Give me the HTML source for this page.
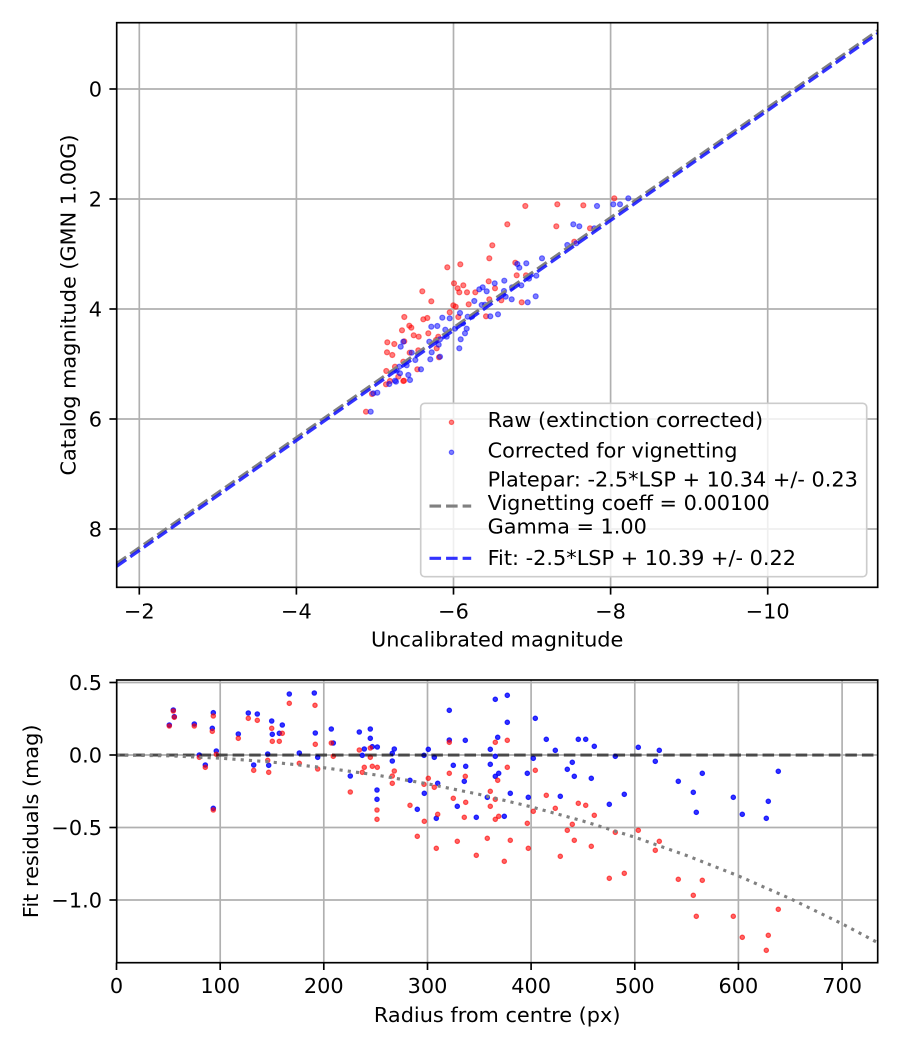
<!DOCTYPE html>
<html><head><meta charset="utf-8"><style>
html,body{margin:0;padding:0;background:#fff;}
svg{display:block;}
text{font-family:"DejaVu Sans","Liberation Sans",sans-serif;font-size:20.83px;fill:#000;}
</style></head><body>
<svg width="900" height="1050" viewBox="0 0 900 1050" xmlns="http://www.w3.org/2000/svg">
<defs>
<clipPath id="c1"><rect x="116.7" y="22.7" width="761" height="564.6"/></clipPath>
<clipPath id="c2"><rect x="116.7" y="680" width="761" height="282.7"/></clipPath>
</defs>
<rect width="900" height="1050" fill="#fff"/>

<!-- ===== TOP AXES ===== -->
<g stroke="#b0b0b0" stroke-width="1.67">
<line x1="139.3" y1="22.7" x2="139.3" y2="587.3"/>
<line x1="296.4" y1="22.7" x2="296.4" y2="587.3"/>
<line x1="453.5" y1="22.7" x2="453.5" y2="587.3"/>
<line x1="610.6" y1="22.7" x2="610.6" y2="587.3"/>
<line x1="767.7" y1="22.7" x2="767.7" y2="587.3"/>
<line x1="116.7" y1="89" x2="877.7" y2="89"/>
<line x1="116.7" y1="199" x2="877.7" y2="199"/>
<line x1="116.7" y1="309" x2="877.7" y2="309"/>
<line x1="116.7" y1="419" x2="877.7" y2="419"/>
<line x1="116.7" y1="529" x2="877.7" y2="529"/>
</g>
<g clip-path="url(#c1)">
<g fill="red" fill-opacity="0.5" stroke="red" stroke-opacity="0.5" stroke-width="1.2">
<circle cx="614.3" cy="198.3" r="2.5"/><circle cx="525.3" cy="206" r="2.5"/><circle cx="557.3" cy="204.3" r="2.5"/><circle cx="583.3" cy="205.3" r="2.5"/><circle cx="507.3" cy="224.3" r="2.5"/><circle cx="556.3" cy="226.3" r="2.5"/><circle cx="590" cy="228.3" r="2.5"/><circle cx="492.3" cy="245.3" r="2.5"/><circle cx="489.3" cy="258.3" r="2.5"/><circle cx="574.3" cy="241.7" r="2.5"/><circle cx="515.3" cy="262.7" r="2.5"/><circle cx="447.3" cy="267.3" r="2.5"/><circle cx="460.3" cy="264.3" r="2.5"/><circle cx="516.7" cy="275.3" r="2.5"/><circle cx="526" cy="275.3" r="2.5"/><circle cx="454" cy="283.3" r="2.5"/><circle cx="457.7" cy="288.3" r="2.5"/><circle cx="463.3" cy="285.3" r="2.5"/><circle cx="459.3" cy="292.3" r="2.5"/><circle cx="467" cy="292.3" r="2.5"/><circle cx="475.3" cy="292.3" r="2.5"/><circle cx="488.7" cy="281.3" r="2.5"/><circle cx="495" cy="288.3" r="2.5"/><circle cx="422.3" cy="291.3" r="2.5"/><circle cx="431.3" cy="301.3" r="2.5"/><circle cx="453.3" cy="305.3" r="2.5"/><circle cx="468.7" cy="304.3" r="2.5"/><circle cx="489.3" cy="299.3" r="2.5"/><circle cx="501.3" cy="300.3" r="2.5"/><circle cx="521.7" cy="302.3" r="2.5"/><circle cx="449.7" cy="312.3" r="2.5"/><circle cx="455.7" cy="306.7" r="2.5"/><circle cx="486" cy="316.3" r="2.5"/><circle cx="404.3" cy="317" r="2.5"/><circle cx="423.3" cy="319.3" r="2.5"/><circle cx="427.3" cy="318" r="2.5"/><circle cx="458.3" cy="317" r="2.5"/><circle cx="409.3" cy="325.7" r="2.5"/><circle cx="411.3" cy="327.7" r="2.5"/><circle cx="402" cy="330.3" r="2.5"/><circle cx="413.7" cy="335.3" r="2.5"/><circle cx="418.7" cy="336.7" r="2.5"/><circle cx="428.3" cy="333.3" r="2.5"/><circle cx="438.3" cy="336.7" r="2.5"/><circle cx="387.3" cy="342.3" r="2.5"/><circle cx="394.3" cy="344" r="2.5"/><circle cx="404.3" cy="341.3" r="2.5"/><circle cx="436" cy="340" r="2.5"/><circle cx="387" cy="352.3" r="2.5"/><circle cx="392.3" cy="355" r="2.5"/><circle cx="409.7" cy="352.7" r="2.5"/><circle cx="418.3" cy="350.3" r="2.5"/><circle cx="436.7" cy="348.3" r="2.5"/><circle cx="439" cy="357.3" r="2.5"/><circle cx="395" cy="366.7" r="2.5"/><circle cx="403.3" cy="361.7" r="2.5"/><circle cx="386.3" cy="371" r="2.5"/><circle cx="417.3" cy="369.3" r="2.5"/><circle cx="390" cy="381" r="2.5"/><circle cx="403.3" cy="381" r="2.5"/><circle cx="372" cy="394" r="2.5"/><circle cx="366" cy="411.7" r="2.5"/><circle cx="398.3" cy="376.7" r="2.5"/><circle cx="386" cy="384.3" r="2.5"/><circle cx="404" cy="380.7" r="2.5"/>
</g>
<g fill="blue" fill-opacity="0.5" stroke="blue" stroke-opacity="0.5" stroke-width="1.2">
<circle cx="628.3" cy="198.3" r="2.5"/><circle cx="620" cy="204.3" r="2.5"/><circle cx="613.3" cy="204.3" r="2.5"/><circle cx="597" cy="206" r="2.5"/><circle cx="573.3" cy="224.3" r="2.5"/><circle cx="579.3" cy="226.3" r="2.5"/><circle cx="594.3" cy="228.3" r="2.5"/><circle cx="576.3" cy="243.3" r="2.5"/><circle cx="567.3" cy="245" r="2.5"/><circle cx="542" cy="258.3" r="2.5"/><circle cx="526.3" cy="263.3" r="2.5"/><circle cx="517.3" cy="264" r="2.5"/><circle cx="519.3" cy="267.7" r="2.5"/><circle cx="536.3" cy="275.7" r="2.5"/><circle cx="529" cy="278.7" r="2.5"/><circle cx="521.3" cy="285.3" r="2.5"/><circle cx="535.7" cy="296.3" r="2.5"/><circle cx="527.7" cy="302.3" r="2.5"/><circle cx="504.3" cy="280.7" r="2.5"/><circle cx="494.7" cy="283.3" r="2.5"/><circle cx="479.3" cy="289.3" r="2.5"/><circle cx="482.7" cy="287.3" r="2.5"/><circle cx="486.7" cy="291.3" r="2.5"/><circle cx="504" cy="291" r="2.5"/><circle cx="512" cy="287.3" r="2.5"/><circle cx="505.7" cy="296.7" r="2.5"/><circle cx="511.7" cy="299.3" r="2.5"/><circle cx="474.3" cy="301" r="2.5"/><circle cx="481.7" cy="305" r="2.5"/><circle cx="485" cy="304.7" r="2.5"/><circle cx="498" cy="314.3" r="2.5"/><circle cx="490.3" cy="316.3" r="2.5"/><circle cx="472" cy="316.7" r="2.5"/><circle cx="467.7" cy="316.7" r="2.5"/><circle cx="460" cy="313" r="2.5"/><circle cx="442.3" cy="317.7" r="2.5"/><circle cx="449.7" cy="318.3" r="2.5"/><circle cx="431.3" cy="326.7" r="2.5"/><circle cx="437.3" cy="326" r="2.5"/><circle cx="445.3" cy="329.7" r="2.5"/><circle cx="455" cy="328.7" r="2.5"/><circle cx="463" cy="323.3" r="2.5"/><circle cx="466.7" cy="328.7" r="2.5"/><circle cx="465" cy="333.3" r="2.5"/><circle cx="460.7" cy="339.3" r="2.5"/><circle cx="459.3" cy="348.3" r="2.5"/><circle cx="446.7" cy="336.7" r="2.5"/><circle cx="440" cy="339.3" r="2.5"/><circle cx="429.3" cy="341.7" r="2.5"/><circle cx="438.7" cy="344.7" r="2.5"/><circle cx="403.3" cy="341.7" r="2.5"/><circle cx="400.7" cy="346.7" r="2.5"/><circle cx="411.7" cy="352.7" r="2.5"/><circle cx="415.3" cy="360" r="2.5"/><circle cx="430.3" cy="359.3" r="2.5"/><circle cx="431.7" cy="352.3" r="2.5"/><circle cx="440" cy="356.7" r="2.5"/><circle cx="399.3" cy="366.7" r="2.5"/><circle cx="406.7" cy="365.3" r="2.5"/><circle cx="396.7" cy="370.7" r="2.5"/><circle cx="408.3" cy="375" r="2.5"/><circle cx="421" cy="369.3" r="2.5"/><circle cx="395" cy="380.7" r="2.5"/><circle cx="389.3" cy="384" r="2.5"/><circle cx="377.3" cy="392.7" r="2.5"/><circle cx="373.3" cy="393.3" r="2.5"/><circle cx="370.7" cy="411.7" r="2.5"/><circle cx="396" cy="381.7" r="2.5"/><circle cx="410" cy="380" r="2.5"/><circle cx="400" cy="373.3" r="2.5"/>
</g>
<line x1="116.7" y1="563.5" x2="877.7" y2="30.7" stroke="#808080" stroke-width="3.125" stroke-dasharray="11.56 5"/>
<line x1="116.7" y1="566.3" x2="877.7" y2="33.5" stroke="blue" stroke-opacity="0.8" stroke-width="3.125" stroke-dasharray="11.56 5"/>
</g>
<!-- legend -->
<rect x="420.7" y="403.3" width="446" height="173.4" rx="4" ry="4" fill="#fff" fill-opacity="0.8" stroke="#cccccc" stroke-width="1.67"/>
<circle cx="451.5" cy="422.3" r="2.2" fill="red" fill-opacity="0.5" stroke="red" stroke-opacity="0.5" stroke-width="1.2"/>
<circle cx="451.5" cy="452.3" r="2.2" fill="blue" fill-opacity="0.5" stroke="blue" stroke-opacity="0.5" stroke-width="1.2"/>
<line x1="429.5" y1="506" x2="471.2" y2="506" stroke="#808080" stroke-width="3.125" stroke-dasharray="11.56 5"/>
<line x1="429.5" y1="558.3" x2="471.2" y2="558.3" stroke="blue" stroke-opacity="0.8" stroke-width="3.125" stroke-dasharray="11.56 5"/>
<text x="487.6" y="427">Raw (extinction corrected)</text>
<text x="487.6" y="457.3">Corrected for vignetting</text>
<text x="487.6" y="486.7">Platepar: -2.5*LSP + 10.34 +/- 0.23</text>
<text x="487.6" y="510">Vignetting coeff = 0.00100</text>
<text x="487.6" y="533.3">Gamma = 1.00</text>
<text x="487.6" y="565">Fit: -2.5*LSP + 10.39 +/- 0.22</text>

<!-- spines & ticks top -->
<rect x="116.7" y="22.7" width="761" height="564.6" fill="none" stroke="#000" stroke-width="1.67"/>
<g stroke="#000" stroke-width="1.67">
<line x1="139.3" y1="587.3" x2="139.3" y2="594.6"/>
<line x1="296.4" y1="587.3" x2="296.4" y2="594.6"/>
<line x1="453.5" y1="587.3" x2="453.5" y2="594.6"/>
<line x1="610.6" y1="587.3" x2="610.6" y2="594.6"/>
<line x1="767.7" y1="587.3" x2="767.7" y2="594.6"/>
<line x1="109.4" y1="89" x2="116.7" y2="89"/>
<line x1="109.4" y1="199" x2="116.7" y2="199"/>
<line x1="109.4" y1="309" x2="116.7" y2="309"/>
<line x1="109.4" y1="419" x2="116.7" y2="419"/>
<line x1="109.4" y1="529" x2="116.7" y2="529"/>
</g>
<g text-anchor="middle">
<text x="139.3" y="618.5">−2</text>
<text x="296.4" y="618.5">−4</text>
<text x="453.5" y="618.5">−6</text>
<text x="610.6" y="618.5">−8</text>
<text x="767.7" y="618.5">−10</text>
</g>
<g text-anchor="end">
<text x="102" y="96.6">0</text>
<text x="102" y="206.6">2</text>
<text x="102" y="316.6">4</text>
<text x="102" y="426.6">6</text>
<text x="102" y="536.6">8</text>
</g>
<text x="497.2" y="646.7" text-anchor="middle">Uncalibrated magnitude</text>
<text transform="translate(75.6,305) rotate(-90)" text-anchor="middle">Catalog magnitude (GMN 1.00G)</text>

<!-- ===== BOTTOM AXES ===== -->
<g stroke="#b0b0b0" stroke-width="1.67">
<line x1="220.2" y1="680" x2="220.2" y2="962.7"/>
<line x1="323.8" y1="680" x2="323.8" y2="962.7"/>
<line x1="427.5" y1="680" x2="427.5" y2="962.7"/>
<line x1="531.1" y1="680" x2="531.1" y2="962.7"/>
<line x1="634.8" y1="680" x2="634.8" y2="962.7"/>
<line x1="738.4" y1="680" x2="738.4" y2="962.7"/>
<line x1="842.1" y1="680" x2="842.1" y2="962.7"/>
<line x1="116.7" y1="682.5" x2="877.7" y2="682.5"/>
<line x1="116.7" y1="755" x2="877.7" y2="755"/>
<line x1="116.7" y1="827.5" x2="877.7" y2="827.5"/>
<line x1="116.7" y1="900" x2="877.7" y2="900"/>
</g>
<g clip-path="url(#c2)">
<g fill="blue" fill-opacity="0.8" stroke="blue" stroke-opacity="0.8" stroke-width="1.2">
<circle cx="169.3" cy="725" r="2.2"/><circle cx="173.3" cy="710" r="2.2"/><circle cx="174.3" cy="716.7" r="2.2"/><circle cx="194.3" cy="724" r="2.2"/><circle cx="199.3" cy="755" r="2.2"/><circle cx="205.3" cy="765" r="2.2"/><circle cx="213.3" cy="712.7" r="2.2"/><circle cx="212.3" cy="728.3" r="2.2"/><circle cx="216.3" cy="751" r="2.2"/><circle cx="213.3" cy="808.3" r="2.2"/><circle cx="238.3" cy="734" r="2.2"/><circle cx="248.3" cy="713" r="2.2"/><circle cx="257.3" cy="714" r="2.2"/><circle cx="253.7" cy="765" r="2.2"/><circle cx="271.7" cy="721" r="2.2"/><circle cx="272.3" cy="734.3" r="2.2"/><circle cx="282.3" cy="725" r="2.2"/><circle cx="279.3" cy="733.3" r="2.2"/><circle cx="267.7" cy="754" r="2.2"/><circle cx="268.7" cy="765.3" r="2.2"/><circle cx="289.3" cy="694" r="2.2"/><circle cx="299.3" cy="753" r="2.2"/><circle cx="314.3" cy="693" r="2.2"/><circle cx="315.3" cy="733" r="2.2"/><circle cx="317.7" cy="757.3" r="2.2"/><circle cx="331.3" cy="729" r="2.2"/><circle cx="333.3" cy="743" r="2.2"/><circle cx="350.3" cy="776" r="2.2"/><circle cx="359.3" cy="732" r="2.2"/><circle cx="364.3" cy="749" r="2.2"/><circle cx="362.3" cy="755.3" r="2.2"/><circle cx="370.3" cy="729" r="2.2"/><circle cx="370.3" cy="738.3" r="2.2"/><circle cx="372.3" cy="746.7" r="2.2"/><circle cx="377.3" cy="747" r="2.2"/><circle cx="377" cy="790" r="2.2"/><circle cx="377" cy="799.3" r="2.2"/><circle cx="392.3" cy="753.3" r="2.2"/><circle cx="394.3" cy="749" r="2.2"/><circle cx="392.3" cy="761" r="2.2"/>
<circle cx="410" cy="780.3" r="2.2"/><circle cx="417.3" cy="809.3" r="2.2"/><circle cx="424" cy="755.3" r="2.2"/><circle cx="428.3" cy="749.3" r="2.2"/><circle cx="424.3" cy="793.3" r="2.2"/><circle cx="434.3" cy="757.3" r="2.2"/><circle cx="437.7" cy="783.3" r="2.2"/><circle cx="436.3" cy="818.3" r="2.2"/><circle cx="449.3" cy="710.3" r="2.2"/><circle cx="449.3" cy="740" r="2.2"/><circle cx="453.3" cy="765.3" r="2.2"/><circle cx="457.3" cy="806.3" r="2.2"/><circle cx="465.3" cy="740.3" r="2.2"/><circle cx="465.7" cy="766.3" r="2.2"/><circle cx="464.3" cy="781.3" r="2.2"/><circle cx="476.3" cy="817.3" r="2.2"/><circle cx="487.3" cy="797.3" r="2.2"/><circle cx="490.3" cy="749.3" r="2.2"/><circle cx="490.3" cy="764.3" r="2.2"/><circle cx="495.3" cy="699.3" r="2.2"/><circle cx="495.3" cy="756.3" r="2.2"/><circle cx="497.7" cy="737.3" r="2.2"/><circle cx="495.3" cy="776.3" r="2.2"/><circle cx="498.7" cy="773.3" r="2.2"/><circle cx="504.3" cy="816.3" r="2.2"/><circle cx="507.3" cy="695.3" r="2.2"/><circle cx="507.3" cy="722.3" r="2.2"/><circle cx="510.3" cy="793.3" r="2.2"/><circle cx="527.3" cy="773.3" r="2.2"/><circle cx="528.3" cy="797.3" r="2.2"/><circle cx="533.3" cy="758.3" r="2.2"/><circle cx="535.3" cy="718.3" r="2.2"/><circle cx="546.3" cy="739.3" r="2.2"/><circle cx="555.3" cy="750.3" r="2.2"/><circle cx="560.3" cy="796.3" r="2.2"/><circle cx="567.3" cy="769.3" r="2.2"/><circle cx="572.3" cy="762.3" r="2.2"/><circle cx="574.3" cy="776.3" r="2.2"/><circle cx="578.3" cy="739.3" r="2.2"/><circle cx="585.7" cy="739.3" r="2.2"/><circle cx="591.3" cy="778.3" r="2.2"/><circle cx="594.3" cy="746.3" r="2.2"/><circle cx="609.3" cy="804.3" r="2.2"/><circle cx="615.3" cy="756.3" r="2.2"/><circle cx="624.3" cy="794.3" r="2.2"/><circle cx="638.3" cy="747.3" r="2.2"/><circle cx="655.3" cy="761.3" r="2.2"/><circle cx="659.3" cy="750.3" r="2.2"/><circle cx="678.3" cy="781.3" r="2.2"/><circle cx="693.3" cy="792.3" r="2.2"/><circle cx="696.3" cy="812.3" r="2.2"/><circle cx="702.3" cy="773.3" r="2.2"/><circle cx="733.3" cy="797.3" r="2.2"/><circle cx="742.3" cy="814.3" r="2.2"/><circle cx="766.3" cy="818.3" r="2.2"/><circle cx="768.3" cy="801.3" r="2.2"/><circle cx="778.3" cy="771.3" r="2.2"/>
</g>
<g fill="red" fill-opacity="0.6" stroke="red" stroke-opacity="0.6" stroke-width="1.2">
<circle cx="169.3" cy="726" r="2.2"/><circle cx="173.3" cy="711" r="2.2"/><circle cx="174.3" cy="717.3" r="2.2"/><circle cx="194.3" cy="726" r="2.2"/><circle cx="199.3" cy="757.3" r="2.2"/><circle cx="205.3" cy="767.3" r="2.2"/><circle cx="213.3" cy="716" r="2.2"/><circle cx="212.3" cy="731.3" r="2.2"/><circle cx="216.3" cy="754.3" r="2.2"/><circle cx="213.3" cy="810" r="2.2"/><circle cx="238.3" cy="738.3" r="2.2"/><circle cx="248.3" cy="718.3" r="2.2"/><circle cx="257.3" cy="720.3" r="2.2"/><circle cx="253.7" cy="770.3" r="2.2"/><circle cx="271.7" cy="728.3" r="2.2"/><circle cx="272.3" cy="741.3" r="2.2"/><circle cx="282.3" cy="733.3" r="2.2"/><circle cx="279.3" cy="741.3" r="2.2"/><circle cx="267.7" cy="760.3" r="2.2"/><circle cx="268.7" cy="772.3" r="2.2"/><circle cx="289.3" cy="703.3" r="2.2"/><circle cx="299.3" cy="763.3" r="2.2"/><circle cx="315" cy="705.3" r="2.2"/><circle cx="315.3" cy="744.3" r="2.2"/><circle cx="317.7" cy="769" r="2.2"/><circle cx="331.3" cy="743" r="2.2"/><circle cx="333.3" cy="756.3" r="2.2"/><circle cx="350.3" cy="792" r="2.2"/><circle cx="359.3" cy="750" r="2.2"/><circle cx="364.3" cy="767.3" r="2.2"/><circle cx="362.3" cy="772.3" r="2.2"/><circle cx="370.3" cy="748" r="2.2"/><circle cx="370.3" cy="757.3" r="2.2"/><circle cx="372.3" cy="766.3" r="2.2"/><circle cx="377.3" cy="767.3" r="2.2"/><circle cx="377" cy="810" r="2.2"/><circle cx="377" cy="819.3" r="2.2"/><circle cx="392.3" cy="783.3" r="2.2"/><circle cx="394.3" cy="771" r="2.2"/><circle cx="392.3" cy="776" r="2.2"/>
<circle cx="410" cy="805.3" r="2.2"/><circle cx="417.3" cy="836.3" r="2.2"/><circle cx="424" cy="784.3" r="2.2"/><circle cx="428.3" cy="778.3" r="2.2"/><circle cx="424.3" cy="821.3" r="2.2"/><circle cx="434.3" cy="787.3" r="2.2"/><circle cx="437.7" cy="814.3" r="2.2"/><circle cx="436.3" cy="848.3" r="2.2"/><circle cx="449.3" cy="742.3" r="2.2"/><circle cx="449.3" cy="773.3" r="2.2"/><circle cx="453.3" cy="798.3" r="2.2"/><circle cx="457.3" cy="841.3" r="2.2"/><circle cx="465.3" cy="776.3" r="2.2"/><circle cx="465.7" cy="802.3" r="2.2"/><circle cx="464.3" cy="817.3" r="2.2"/><circle cx="476.3" cy="855.3" r="2.2"/><circle cx="487.3" cy="838.3" r="2.2"/><circle cx="490.3" cy="791.3" r="2.2"/><circle cx="490.3" cy="806.3" r="2.2"/><circle cx="495.3" cy="742.3" r="2.2"/><circle cx="495.3" cy="799.3" r="2.2"/><circle cx="497.7" cy="780.3" r="2.2"/><circle cx="495.3" cy="819.3" r="2.2"/><circle cx="498.7" cy="816.3" r="2.2"/><circle cx="504.3" cy="861.3" r="2.2"/><circle cx="507.3" cy="740.3" r="2.2"/><circle cx="507.3" cy="767.3" r="2.2"/><circle cx="510.3" cy="840.3" r="2.2"/><circle cx="527.3" cy="823.3" r="2.2"/><circle cx="528.3" cy="848.3" r="2.2"/><circle cx="533.3" cy="811.3" r="2.2"/><circle cx="535.3" cy="770.3" r="2.2"/><circle cx="546.3" cy="795.3" r="2.2"/><circle cx="555.3" cy="808.3" r="2.2"/><circle cx="560.3" cy="856.3" r="2.2"/><circle cx="567.3" cy="830.3" r="2.2"/><circle cx="572.3" cy="824.3" r="2.2"/><circle cx="574.3" cy="840.3" r="2.2"/><circle cx="578.3" cy="803.3" r="2.2"/><circle cx="585.7" cy="805.3" r="2.2"/><circle cx="591.3" cy="846.3" r="2.2"/><circle cx="594.3" cy="815.3" r="2.2"/><circle cx="609.3" cy="878.3" r="2.2"/><circle cx="615.3" cy="832.3" r="2.2"/><circle cx="624.3" cy="873.3" r="2.2"/><circle cx="638.3" cy="830.3" r="2.2"/><circle cx="655.3" cy="850.3" r="2.2"/><circle cx="659.3" cy="841.3" r="2.2"/><circle cx="678.3" cy="879.3" r="2.2"/><circle cx="693.3" cy="895.3" r="2.2"/><circle cx="696.3" cy="916.3" r="2.2"/><circle cx="702.3" cy="880.3" r="2.2"/><circle cx="733.3" cy="916.3" r="2.2"/><circle cx="742.3" cy="937.3" r="2.2"/><circle cx="766.3" cy="950.3" r="2.2"/><circle cx="768.3" cy="935.3" r="2.2"/><circle cx="778.3" cy="909.3" r="2.2"/>
</g>
<line x1="116.7" y1="755" x2="877.7" y2="755" stroke="#000" stroke-opacity="0.6" stroke-width="3.125" stroke-dasharray="11.56 5"/>
<polyline fill="none" stroke="#808080" stroke-width="3.125" stroke-dasharray="3.125 5.16" points="116.5,755 168.3,755.8 220.2,758.2 272,762.1 323.8,767.7 375.6,774.9 427.5,783.8 479.3,794.4 531.1,806.8 582.9,821 634.8,837.2 686.6,855.5 738.4,875.9 790.2,898.6 842.1,923.8 878.3,943"/>
</g>
<rect x="116.7" y="680" width="761" height="282.7" fill="none" stroke="#000" stroke-width="1.67"/>
<g stroke="#000" stroke-width="1.67">
<line x1="116.5" y1="962.7" x2="116.5" y2="970"/>
<line x1="220.2" y1="962.7" x2="220.2" y2="970"/>
<line x1="323.8" y1="962.7" x2="323.8" y2="970"/>
<line x1="427.5" y1="962.7" x2="427.5" y2="970"/>
<line x1="531.1" y1="962.7" x2="531.1" y2="970"/>
<line x1="634.8" y1="962.7" x2="634.8" y2="970"/>
<line x1="738.4" y1="962.7" x2="738.4" y2="970"/>
<line x1="842.1" y1="962.7" x2="842.1" y2="970"/>
<line x1="109.4" y1="682.5" x2="116.7" y2="682.5"/>
<line x1="109.4" y1="755" x2="116.7" y2="755"/>
<line x1="109.4" y1="827.5" x2="116.7" y2="827.5"/>
<line x1="109.4" y1="900" x2="116.7" y2="900"/>
</g>
<g text-anchor="middle">
<text x="116.5" y="993">0</text>
<text x="220.2" y="993">100</text>
<text x="323.8" y="993">200</text>
<text x="427.5" y="993">300</text>
<text x="531.1" y="993">400</text>
<text x="634.8" y="993">500</text>
<text x="738.4" y="993">600</text>
<text x="842.1" y="993">700</text>
</g>
<g text-anchor="end">
<text x="102" y="690.1">0.5</text>
<text x="102" y="762.6">0.0</text>
<text x="102" y="835.1">−0.5</text>
<text x="102" y="907.6">−1.0</text>
</g>
<text x="497.2" y="1022" text-anchor="middle">Radius from centre (px)</text>
<text transform="translate(38.2,821.3) rotate(-90)" text-anchor="middle">Fit residuals (mag)</text>
</svg>
</body></html>
